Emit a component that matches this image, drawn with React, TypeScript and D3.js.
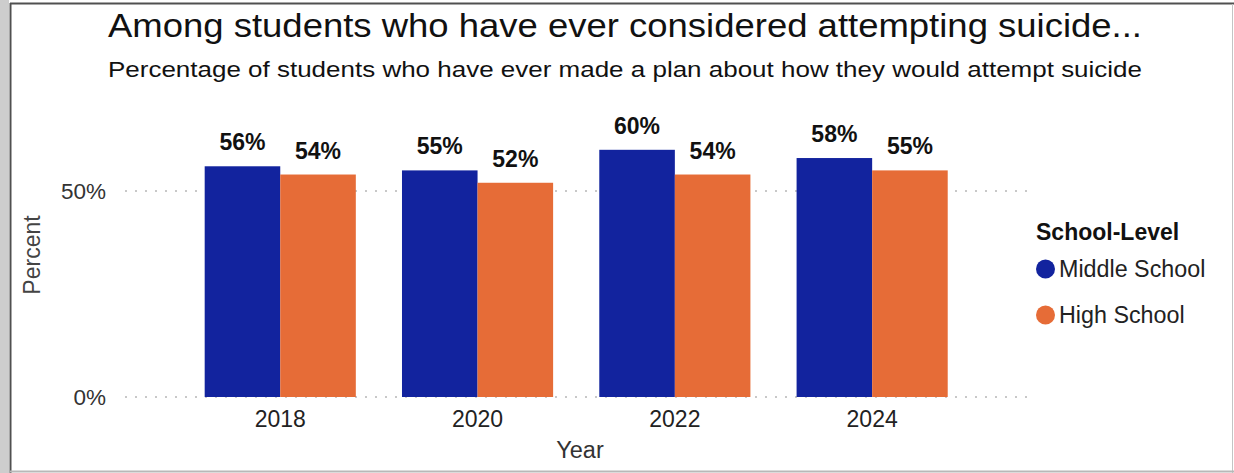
import React from "react";
import * as d3 from "d3";

const years = ["2018", "2020", "2022", "2024"];
const series = ["Middle School", "High School"];
const middleSchool = [56, 55, 60, 58];
const highSchool = [54, 52, 54, 55];
const yTicks = [0, 50];
const colors = ["#12239E", "#E66C37"];

const W = 1234;
const H = 473;

export default function App() {
  const x = d3.scaleBand<string>().domain(years).range([181.6, 970.8]).paddingInner(0.234).paddingOuter(0.117);
  const xs = d3.scaleBand<string>().domain(series).range([0, x.bandwidth()]);
  const y = d3.scaleLinear().domain([0, 50]).range([397, 191]);
  const values = [middleSchool, highSchool];
  const font = "'Liberation Sans', Arial, sans-serif";

  return (
    <svg width={W} height={H} style={{ position: "absolute", left: 0, top: 0 }} fontFamily={font}>
      <rect x={0} y={0} width={W} height={H} fill="#ffffff" />
      <rect x={0} y={0} width={9} height={H} fill="#cdcdcd" />
      <line x1={10.5} x2={10.5} y1={3} y2={H} stroke="#505050" strokeWidth={2} />
      <line x1={10} x2={W} y1={3.5} y2={3.5} stroke="#505050" strokeWidth={2} />
      <line x1={1232.5} x2={1232.5} y1={4} y2={H} stroke="#c4c4c4" strokeWidth={1} />
      <line x1={10} x2={W} y1={471.5} y2={471.5} stroke="#b8b8b8" strokeWidth={2} />

      <text x={108} y={37} fontSize={33} fill="#111" textLength={1034} lengthAdjust="spacingAndGlyphs">
        Among students who have ever considered attempting suicide...
      </text>
      <text x={108} y={77} fontSize={21.5} fill="#111" textLength={1034} lengthAdjust="spacingAndGlyphs">
        Percentage of students who have ever made a plan about how they would attempt suicide
      </text>

      {yTicks.map((t) => (
        <g key={t}>
          <line x1={125} x2={1027} y1={y(t)} y2={y(t)} stroke="#c8c8c8" strokeWidth={2} strokeDasharray="2 8" />
          <text x={106} y={y(t)} dy="0.35em" textAnchor="end" fontSize={22.5} fill="#333">
            {t + "%"}
          </text>
        </g>
      ))}
      <text transform="translate(40,255) rotate(-90)" textAnchor="middle" fontSize={23} fill="#444">
        Percent
      </text>

      {years.map((yr, i) => (
        <g key={yr} transform={`translate(${x(yr)},0)`}>
          {series.map((s, j) => {
            const v = values[j][i];
            const bx = xs(s) as number;
            return (
              <g key={s}>
                <rect
                  x={bx}
                  y={y(v)}
                  width={xs.bandwidth()}
                  height={y(0) - y(v)}
                  fill={colors[j]}
                />
                <text
                  x={bx + xs.bandwidth() / 2}
                  y={y(v) - 16}
                  textAnchor="middle"
                  fontSize={23}
                  fontWeight="bold"
                  fill="#111"
                >
                  {v + "%"}
                </text>
              </g>
            );
          })}
          <text x={x.bandwidth() / 2} y={419} dy="0.35em" textAnchor="middle" fontSize={23} fill="#222">
            {yr}
          </text>
        </g>
      ))}
      <text x={580} y={450} dy="0.35em" textAnchor="middle" fontSize={23.5} fill="#333">
        Year
      </text>

      <text x={1036} y={240} fontSize={23} fontWeight="bold" fill="#111">
        School-Level
      </text>
      {series.map((s, j) => (
        <g key={s} transform={`translate(0,${269 + j * 46})`}>
          <circle cx={1045.5} cy={0} r={9.5} fill={colors[j]} />
          <text x={1059} y={0} dy="0.35em" fontSize={23.3} fill="#222">
            {s}
          </text>
        </g>
      ))}
    </svg>
  );
}
